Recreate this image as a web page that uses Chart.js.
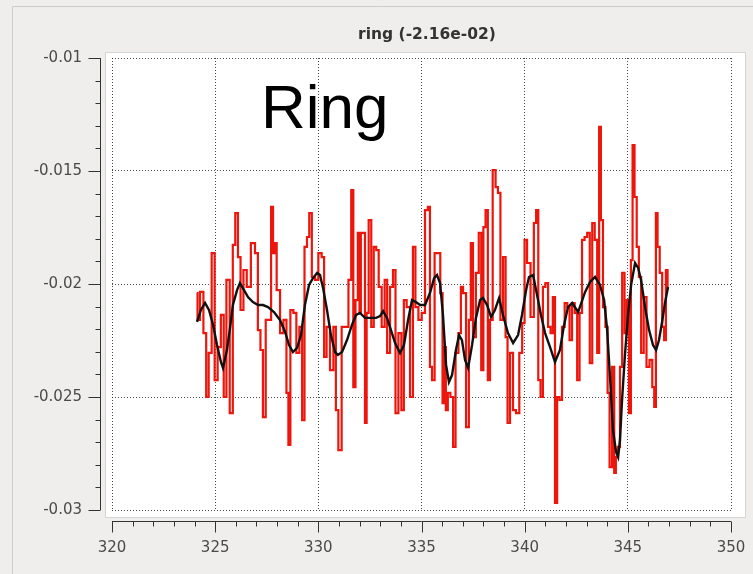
<!DOCTYPE html>
<html>
<head>
<meta charset="utf-8">
<script src="https://cdn.jsdelivr.net/npm/chart.js@4/dist/chart.umd.min.js"></script>
<style>
  html, body { margin: 0; padding: 0; background: #efeeec; }
  #wrap { width: 753px; height: 574px; }
</style>
</head>
<body>
<div id="wrap"><canvas id="myChart" width="753" height="574"></canvas></div>
<script>
// raw signal (red)
var redX = [324.11, 324.18, 324.35, 324.51, 324.62, 324.75, 324.91, 325.04, 325.20, 325.35,
    325.48, 325.61, 325.80, 325.91, 326.04, 326.17, 326.29, 326.45, 326.61, 326.85,
    327.01, 327.13, 327.26, 327.37, 327.53, 327.66, 327.76, 327.85, 327.90, 328.06,
    328.23, 328.39, 328.52, 328.58, 328.71, 328.87, 329.00, 329.16, 329.27, 329.39,
    329.51, 329.61, 329.76, 329.92, 330.08, 330.24, 330.32, 330.48, 330.65, 330.81,
    330.89, 331.05, 331.21, 331.38, 331.54, 331.65, 331.74, 331.86, 331.97, 332.02,
    332.10, 332.21, 332.31, 332.37, 332.51, 332.62, 332.75, 332.86, 332.99, 333.15,
    333.28, 333.39, 333.56, 333.68, 333.80, 333.96, 334.09, 334.20, 334.36, 334.53,
    334.64, 334.77, 334.93, 335.09, 335.25, 335.37, 335.45, 335.57, 335.70, 335.84,
    335.98, 336.06, 336.14, 336.22, 336.33, 336.47, 336.59, 336.71, 336.87, 336.95,
    337.08, 337.24, 337.35, 337.43, 337.56, 337.71, 337.84, 337.95, 338.05, 338.16,
    338.27, 338.37, 338.53, 338.65, 338.76, 338.89, 339.02, 339.13, 339.21, 339.37,
    339.50, 339.66, 339.82, 339.94, 340.05, 340.18, 340.39, 340.50, 340.61, 340.71,
    340.83, 340.94, 341.07, 341.20, 341.31, 341.42, 341.52, 341.63, 341.75, 341.87,
    342.01, 342.12, 342.23, 342.36, 342.49, 342.60, 342.72, 342.84, 342.97, 343.09,
    343.22, 343.33, 343.46, 343.57, 343.65, 343.74, 343.85, 343.98, 344.06, 344.17,
    344.30, 344.38, 344.46, 344.57, 344.67, 344.78, 344.90, 345.00, 345.11, 345.19,
    345.27, 345.38, 345.48, 345.59, 345.70, 345.84, 345.97, 346.13, 346.24, 346.32,
    346.40, 346.48, 346.61, 346.72, 346.80, 346.89, 346.96];
var redY = [-0.02040, -0.02159, -0.02035, -0.02217, -0.02500, -0.02305, -0.01863, -0.02425, -0.02279, -0.02137,
    -0.02500, -0.01982, -0.02571, -0.01827, -0.01686, -0.01881, -0.02115, -0.01938, -0.02013, -0.01819,
    -0.01863, -0.02204, -0.02292, -0.02589, -0.02159, -0.02159, -0.01659, -0.01863, -0.01819, -0.02027,
    -0.02217, -0.02159, -0.02482, -0.02712, -0.02115, -0.02128, -0.02305, -0.02190, -0.02602, -0.01836,
    -0.01792, -0.01686, -0.01969, -0.01982, -0.01863, -0.01881, -0.02323, -0.02190, -0.02381, -0.02190,
    -0.02558, -0.02735, -0.02190, -0.02190, -0.01982, -0.01584, -0.02456, -0.02071, -0.01774, -0.02128,
    -0.01774, -0.01774, -0.02615, -0.02128, -0.01717, -0.02190, -0.01836, -0.01850, -0.02013, -0.02190,
    -0.01982, -0.02305, -0.02013, -0.01938, -0.02571, -0.02217, -0.02558, -0.02071, -0.02102, -0.02500,
    -0.01836, -0.02102, -0.02159, -0.02128, -0.01673, -0.01659, -0.02367, -0.02425, -0.01863, -0.01863,
    -0.02040, -0.02527, -0.02279, -0.02558, -0.02482, -0.02500, -0.02721, -0.02305, -0.02217, -0.02013,
    -0.02040, -0.02633, -0.02159, -0.01819, -0.02235, -0.01951, -0.01774, -0.02381, -0.01748, -0.01673,
    -0.02425, -0.02159, -0.01496, -0.01571, -0.01597, -0.02159, -0.01881, -0.02235, -0.02615, -0.02305,
    -0.02558, -0.02571, -0.02305, -0.02173, -0.01805, -0.01907, -0.02146, -0.01730, -0.01673, -0.02425,
    -0.02500, -0.02013, -0.01996, -0.02190, -0.02217, -0.02058, -0.02969, -0.02500, -0.02513, -0.02190,
    -0.02084, -0.02102, -0.02248, -0.02084, -0.02128, -0.02425, -0.02128, -0.01805, -0.01792, -0.01774,
    -0.02350, -0.01730, -0.01805, -0.02305, -0.01305, -0.01717, -0.02102, -0.02190, -0.02482, -0.02810,
    -0.02367, -0.02836, -0.02766, -0.02721, -0.02367, -0.01951, -0.02217, -0.02071, -0.02571, -0.01894,
    -0.01385, -0.01615, -0.01836, -0.01969, -0.02305, -0.02058, -0.02367, -0.02336, -0.02456, -0.02544,
    -0.01686, -0.01836, -0.01951, -0.02190, -0.02248, -0.01938, -0.02013];

// smoothed signal (black)
var blackX = [324.12, 324.31, 324.51, 324.70, 324.90, 325.09, 325.28, 325.38, 325.57, 325.72,
    325.86, 326.06, 326.20, 326.40, 326.59, 326.83, 327.08, 327.32, 327.56, 327.85,
    328.14, 328.39, 328.58, 328.77, 328.97, 329.16, 329.35, 329.55, 329.74, 329.94,
    330.08, 330.23, 330.42, 330.61, 330.81, 330.95, 331.15, 331.39, 331.63, 331.83,
    332.02, 332.26, 332.51, 332.80, 332.99, 333.14, 333.33, 333.52, 333.72, 333.96,
    334.15, 334.35, 334.54, 334.73, 334.93, 335.17, 335.41, 335.61, 335.75, 335.90,
    336.04, 336.19, 336.33, 336.48, 336.67, 336.82, 336.96, 337.11, 337.26, 337.45,
    337.64, 337.84, 337.98, 338.18, 338.37, 338.56, 338.76, 338.95, 339.19, 339.44,
    339.68, 339.87, 340.07, 340.21, 340.41, 340.60, 340.79, 340.99, 341.23, 341.47,
    341.71, 341.91, 342.10, 342.30, 342.59, 342.93, 343.17, 343.41, 343.65, 343.85,
    343.99, 344.14, 344.28, 344.43, 344.53, 344.62, 344.72, 344.86, 345.01, 345.16,
    345.35, 345.50, 345.64, 345.84, 346.03, 346.22, 346.37, 346.51, 346.66, 346.80,
    346.95];
var blackY = [-0.02168, -0.02115, -0.02084, -0.02115, -0.02181, -0.02270, -0.02345, -0.02372, -0.02292, -0.02195,
    -0.02093, -0.02027, -0.01996, -0.02027, -0.02058, -0.02080, -0.02093, -0.02093, -0.02102, -0.02124,
    -0.02159, -0.02212, -0.02270, -0.02301, -0.02283, -0.02226, -0.02093, -0.02004, -0.01974, -0.01951,
    -0.01960, -0.02018, -0.02115, -0.02226, -0.02301, -0.02314, -0.02301, -0.02248, -0.02181, -0.02137,
    -0.02128, -0.02150, -0.02150, -0.02150, -0.02142, -0.02120, -0.02150, -0.02204, -0.02261, -0.02305,
    -0.02270, -0.02159, -0.02071, -0.02080, -0.02093, -0.02093, -0.02040, -0.01974, -0.01960, -0.01996,
    -0.02137, -0.02358, -0.02434, -0.02403, -0.02292, -0.02226, -0.02248, -0.02336, -0.02372, -0.02270,
    -0.02150, -0.02071, -0.02062, -0.02093, -0.02146, -0.02115, -0.02062, -0.02137, -0.02217, -0.02261,
    -0.02226, -0.02137, -0.02027, -0.01969, -0.01960, -0.02049, -0.02137, -0.02217, -0.02279, -0.02345,
    -0.02292, -0.02181, -0.02102, -0.02084, -0.02124, -0.02035, -0.01991, -0.01969, -0.02004, -0.02071,
    -0.02195, -0.02416, -0.02646, -0.02743, -0.02766, -0.02690, -0.02513, -0.02314, -0.02137, -0.02004,
    -0.01907, -0.01929, -0.01982, -0.02106, -0.02204, -0.02270, -0.02292, -0.02248, -0.02168, -0.02084,
    -0.02013];

var xTicks = [320, 325, 330, 335, 340, 345, 350];
var yTicks = [-0.03, -0.025, -0.02, -0.015, -0.01];
var chartTitle = 'ring (-2.16e-02)';
var bigLabel = 'Ring';

function toPoints(xs, ys) {
    var pts = [];
    for (var i = 0; i < xs.length; i++) {
        pts.push({x: xs[i], y: ys[i]});
    }
    return pts;
}

var frame = {
    id: 'frame',
    beforeDraw: function (chart) {
        var c = chart.ctx, a = chart.chartArea;
        c.save();
        c.fillStyle = '#efeeec';
        c.fillRect(0, 0, chart.width, chart.height);
        c.strokeStyle = '#cdcdcb';
        c.lineWidth = 1;
        c.beginPath();
        c.moveTo(12.5, chart.height);
        c.lineTo(12.5, 6.5);
        c.lineTo(chart.width, 6.5);
        c.stroke();
        c.fillStyle = '#ffffff';
        c.fillRect(a.left - 6, a.top - 5, a.right - a.left + 20, a.bottom - a.top + 12);
        c.strokeStyle = '#d4d4d4';
        c.strokeRect(a.left - 6.5, a.top - 5.5, a.right - a.left + 21, a.bottom - a.top + 13);
        // title
        c.fillStyle = '#333';
        c.font = 'bold 15.5px "DejaVu Sans", sans-serif';
        c.textAlign = 'center';
        c.textBaseline = 'middle';
        c.fillText(chartTitle, 427, 35);
        c.restore();
    },
    afterDraw: function (chart) {
        var c = chart.ctx, a = chart.chartArea;
        var xs = chart.scales.x, ys = chart.scales.y;
        c.save();
        c.strokeStyle = '#333';
        c.lineWidth = 1;
        // y axis with minor ticks
        var ax = Math.round(a.left) - 11.5;
        c.beginPath();
        c.moveTo(ax, a.top);
        c.lineTo(ax, a.bottom);
        for (var i = 0; i <= 20; i++) {
            var py = Math.round(ys.getPixelForValue(-0.03 + i * 0.001)) + 0.5;
            var len = (i % 5 === 0) ? 12 : 5;
            c.moveTo(ax, py);
            c.lineTo(ax - len, py);
        }
        // x axis with minor ticks
        var ay = Math.round(a.bottom) + 11.5;
        c.moveTo(a.left, ay);
        c.lineTo(a.right, ay);
        for (var j = 0; j <= 30; j++) {
            var px = Math.round(xs.getPixelForValue(320 + j)) + 0.5;
            var l2 = (j % 5 === 0) ? 11 : 5;
            c.moveTo(px, ay);
            c.lineTo(px, ay + l2);
        }
        c.stroke();
        // big overlay label
        c.fillStyle = '#000';
        c.font = '62px "Liberation Sans", Arial, sans-serif';
        c.textAlign = 'left';
        c.textBaseline = 'alphabetic';
        c.fillText(bigLabel, 261, 128);
        c.restore();
    }
};

var tickFont = {family: '"DejaVu Sans", sans-serif', size: 15};

var ctx = document.getElementById('myChart').getContext('2d');
var myChart = new Chart(ctx, {
    type: 'line',
    data: {
        datasets: [{
            label: 'smoothed',
            data: toPoints(blackX, blackY),
            borderColor: '#111111',
            borderWidth: 2.4,
            pointRadius: 0,
            tension: 0
        }, {
            label: 'ring',
            data: toPoints(redX, redY),
            borderColor: 'rgb(236, 22, 12)',
            borderWidth: 2.2,
            pointRadius: 0,
            stepped: 'middle'
        }]
    },
    options: {
        responsive: false,
        animation: false,
        layout: {padding: {left: 0, right: 22, top: 58, bottom: 0}},
        plugins: {
            legend: {display: false},
            tooltip: {enabled: false},
            title: {display: false}
        },
        scales: {
            x: {
                type: 'linear',
                min: 320,
                max: 350,
                afterBuildTicks: function (scale) {
                    scale.ticks = xTicks.map(function (v) { return {value: v}; });
                },
                afterFit: function (scale) {
                    scale.height = 64;
                    scale.paddingLeft = 0;
                    scale.paddingRight = 0;
                },
                ticks: {color: '#4a4a4a', font: tickFont, padding: 29, maxRotation: 0},
                grid: {color: 'rgba(40,40,40,0.85)', drawTicks: false},
                border: {display: false, dash: [1, 2]}
            },
            y: {
                min: -0.03,
                max: -0.01,
                afterBuildTicks: function (scale) {
                    scale.ticks = yTicks.map(function (v) { return {value: v}; });
                },
                afterFit: function (scale) {
                    scale.width = 112;
                    scale.paddingTop = 0;
                    scale.paddingBottom = 0;
                },
                ticks: {
                    color: '#4a4a4a', font: tickFont, padding: 30,
                    callback: function (v) { return String(Math.round(v * 1000) / 1000); }
                },
                grid: {color: 'rgba(40,40,40,0.85)', drawTicks: false},
                border: {display: false, dash: [1, 2]}
            }
        }
    },
    plugins: [frame]
});
</script>
</body>
</html>
